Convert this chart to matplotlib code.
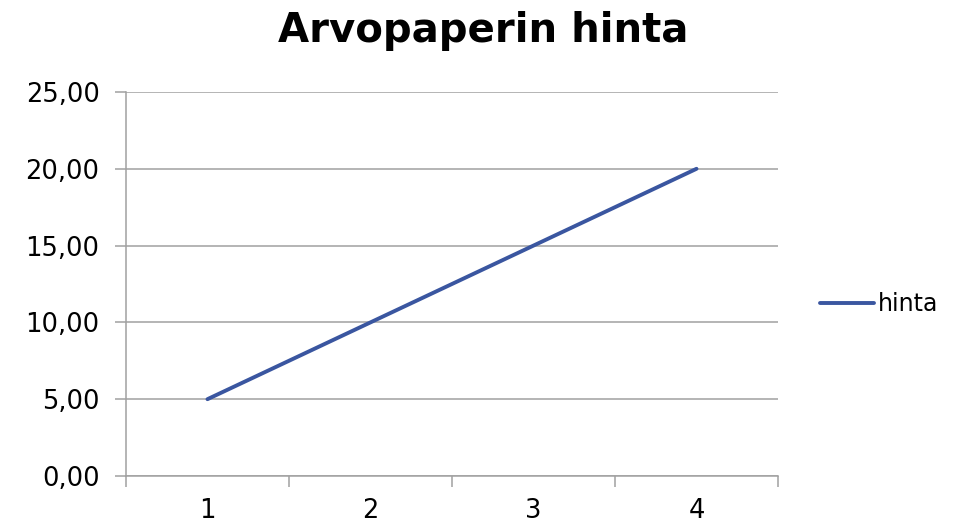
import matplotlib.pyplot as plt
from matplotlib.ticker import FixedLocator, FuncFormatter

# data
periods = [1, 2, 3, 4]
hinta = [5.0, 10.0, 15.0, 20.0]
y_ticks = [0, 5, 10, 15, 20, 25]

plt.rcParams['font.family'] = ['DejaVu Sans']

fig = plt.figure(figsize=(9.66, 5.26), dpi=100)
ax = fig.add_axes([0.1304, 0.0951, 0.675, 0.730])

ax.plot(periods, hinta, color='#3A56A0', linewidth=2.8, label='hinta',
        solid_capstyle='round')

ax.set_xlim(0.5, 4.5)
ax.set_ylim(0, 25)

# horizontal grid
ax.set_yticks(y_ticks)
ax.yaxis.set_major_formatter(FuncFormatter(lambda v, p: f"{v:.2f}".replace('.', ',')))
ax.grid(axis='y', color='#A0A0A0', linewidth=1.1)
ax.set_axisbelow(True)

# category ticks between labels
ax.set_xticks(periods)
ax.set_xticklabels([str(p) for p in periods])
ax.xaxis.set_minor_locator(FixedLocator([0.5, 1.5, 2.5, 3.5, 4.5]))
ax.tick_params(axis='x', which='major', length=0, pad=16, labelsize=18.5)
ax.tick_params(axis='x', which='minor', length=8, width=1.1, color='#A0A0A0',
               direction='out')
ax.tick_params(axis='y', which='major', length=8, width=1.1, color='#A0A0A0',
               pad=11, labelsize=18.5)

for s in ['top', 'right']:
    ax.spines[s].set_visible(False)
ax.spines['left'].set_color('#A0A0A0')
ax.spines['bottom'].set_color('#A0A0A0')
ax.spines['left'].set_linewidth(1.1)
ax.spines['bottom'].set_linewidth(1.1)

fig.text(0.5, 0.941, 'Arvopaperin hinta', ha='center', va='center',
         fontsize=29, fontweight='bold')

fig.legend(loc='center left', bbox_to_anchor=(0.827, 0.422), frameon=False,
           fontsize=17, handlelength=2.3, handletextpad=0.15)

fig.savefig('out.png', dpi=100)
